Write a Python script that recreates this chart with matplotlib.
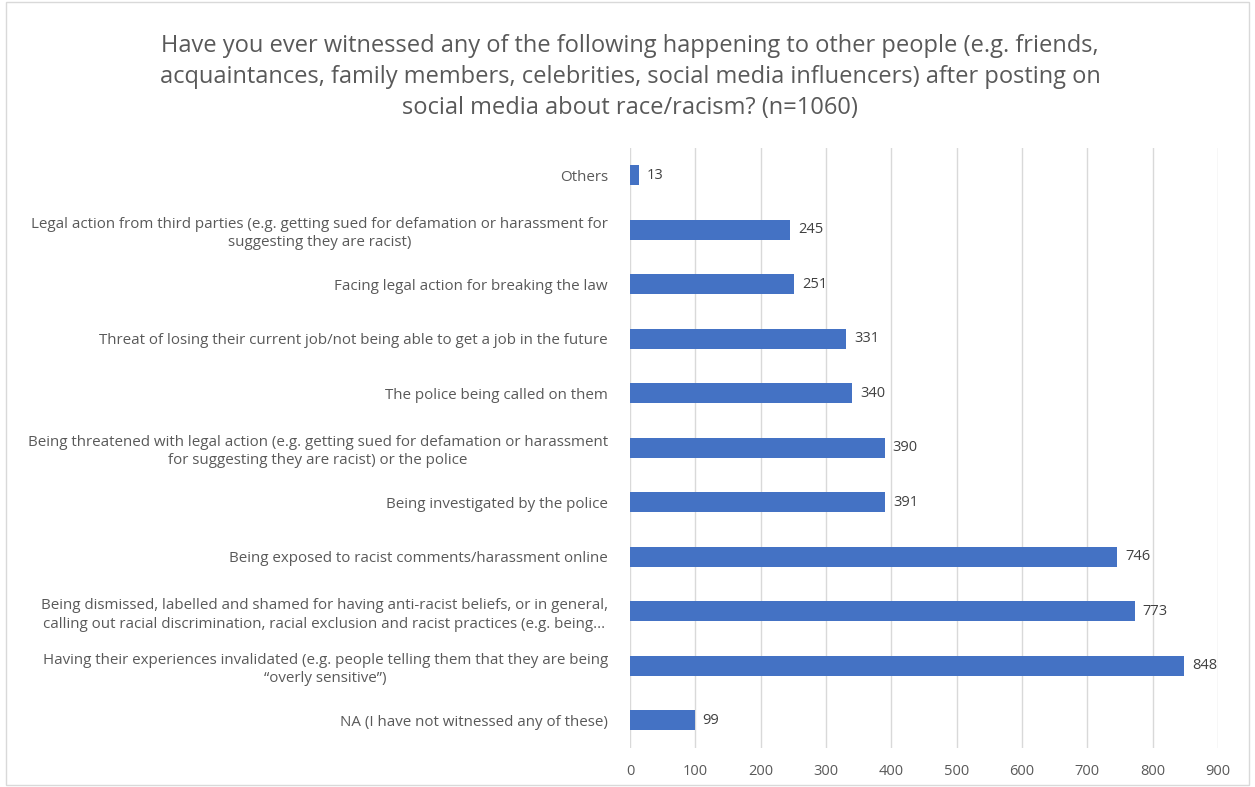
import matplotlib.pyplot as plt
from matplotlib.patches import Rectangle

# answers, listed bottom to top
categories = [
    "NA (I have not witnessed any of these)",
    "Having their experiences invalidated (e.g. people telling them that they are being\n\u201coverly sensitive\u201d)",
    "Being dismissed, labelled and shamed for having anti-racist beliefs, or in general,\ncalling out racial discrimination, racial exclusion and racist practices (e.g. being...",
    "Being exposed to racist comments/harassment online",
    "Being investigated by the police",
    "Being threatened with legal action (e.g. getting sued for defamation or harassment\nfor suggesting they are racist) or the police",
    "The police being called on them",
    "Threat of losing their current job/not being able to get a job in the future",
    "Facing legal action for breaking the law",
    "Legal action from third parties (e.g. getting sued for defamation or harassment for\nsuggesting they are racist)",
    "Others",
]
counts = [99, 848, 773, 746, 391, 390, 340, 331, 251, 245, 13]
xticks = [0, 100, 200, 300, 400, 500, 600, 700, 800, 900]

title = ("Have you ever witnessed any of the following happening to other people (e.g. friends,\n"
         "acquaintances, family members, celebrities, social media influencers) after posting on\n"
         "social media about race/racism? (n=1060)")

plt.rcParams['font.family'] = ['Open Sans', 'DejaVu Sans']
txtColor = "#595959"
barColor = "#4472C4"

fig = plt.figure(figsize=(12.55, 7.87), dpi=100)
ax = fig.add_axes([0.502, 0.05, 0.4685, 0.762])

pos = list(range(len(categories)))
ax.barh(pos, counts, height=0.37, color=barColor, zorder=3)
for p, v in zip(pos, counts):
    ax.text(v + 12, p, str(v), va='center', ha='left', fontsize=10.5, color="#404040")

ax.set_xlim(0, 900)
ax.set_ylim(-0.5, len(categories) - 0.5)
ax.set_xticks(xticks)
ax.set_yticks(pos)
ax.set_yticklabels(categories, fontsize=10.9, color=txtColor, linespacing=1.3)
for lbl in ax.get_yticklabels():
    lbl.set_multialignment('center')
ax.tick_params(axis='x', labelsize=10.5, colors=txtColor, length=0, pad=12)
ax.tick_params(axis='y', length=0, pad=16)
ax.grid(axis='x', color="#d9d9d9", linewidth=1, zorder=0)
for s in ax.spines.values():
    s.set_visible(False)

fig.text(0.502, 0.902, title, ha='center', va='center', fontsize=17,
         color=txtColor, linespacing=1.4)

# thin frame around the whole chart
fig.patches.append(Rectangle((0.005, 0.003), 0.99, 0.994, transform=fig.transFigure,
                             fill=False, edgecolor="#d9d9d9", linewidth=1))

fig.savefig("out.png", dpi=100)
